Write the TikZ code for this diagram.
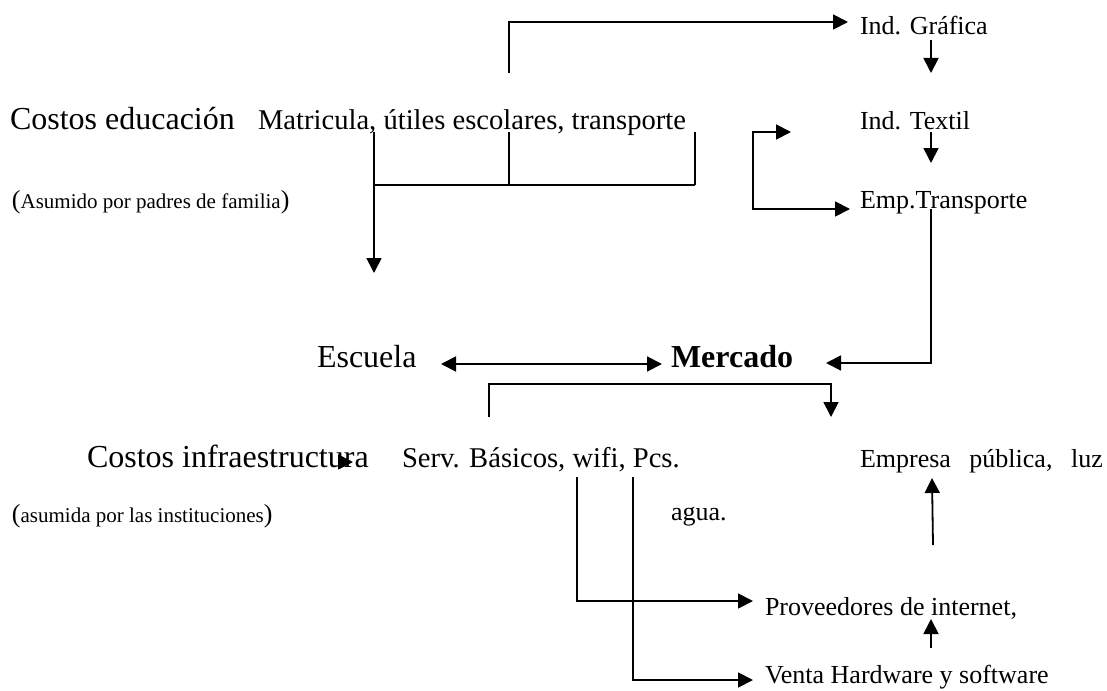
\documentclass[tikz,border=0pt]{standalone}
\usepackage{fontspec}
\setmainfont{Liberation Serif}
\usetikzlibrary{arrows.meta}
\begin{document}
\begin{tikzpicture}[x=1pt,y=-1pt,
  lbl/.style={anchor=base west,inner sep=0pt,outer sep=0pt},
  fL/.style={font=\fontsize{32}{36}\selectfont},
  fM/.style={font=\fontsize{28.6}{32}\selectfont},
  fS/.style={font=\fontsize{26}{30}\selectfont},
  conn/.style={line width=1.8pt},
  arr/.style={conn,-{Triangle[length=15pt,width=15pt]}},
  darr/.style={conn,{Triangle[length=15pt,width=15pt]}-{Triangle[length=15pt,width=15pt]}},
]
\useasboundingbox (0,0) rectangle (1107,690);
\fill[white] (0,0) rectangle (1107,690);

% texts
\node[lbl,fL] (ce) at (10,129) {Costos educación};
\node[lbl,fM] (mat) at (258,129) {Matricula, útiles escolares, transporte};
\node[lbl] (ape) at (12,208) {\fontsize{26}{30}\selectfont(\fontsize{21}{25}\selectfont Asumido por padres de familia\fontsize{26}{30}\selectfont)};
\node[lbl,fS] (ig) at (860,35) {Ind. Gráfica};
\node[lbl,fS] (it) at (860,129) {Ind. Textil};
\node[lbl,fS] (et) at (860,208) {Emp.Transporte};
\node[lbl,fL] (esc) at (317,367) {Escuela};
\node[lbl,fL] (mer) at (671,367) {\bfseries Mercado};
\node[lbl,fL] (ci) at (87,467) {Costos infraestructura};
\node[lbl,fM] (sb) at (402,467) {Serv. Básicos, wifi, Pcs.};
\node[lbl,fS] (ep) at (860,467) {Empresa\hspace{18.5pt}pública,\hspace{18.5pt}luz};
\node[lbl] (ai) at (12,522) {\fontsize{26}{30}\selectfont(\fontsize{21}{25}\selectfont asumida por las instituciones\fontsize{26}{30}\selectfont)};
\node[lbl,fS] (agua) at (671,520) {agua.};
\node[lbl,fS] (pi) at (765,615) {Proveedores de internet,};
\node[lbl,fS] (vh) at (765,683) {Venta Hardware y software};

% coordinates
\coordinate (a1) at (509,73);
\coordinate (a1t) at (848,22);
\coordinate (bl) at (374,132);
\coordinate (blt) at (374,273);
\coordinate (bm) at (509,132);
\coordinate (br) at (695,132);
\coordinate (g1) at (931,40);
\coordinate (g1t) at (931,73);
\coordinate (t1) at (931,132);
\coordinate (t1t) at (931,163);
\coordinate (lp1) at (791,132);
\coordinate (lp2) at (850,209);
\coordinate (e1) at (931,209);
\coordinate (e1t) at (826,363);
\coordinate (d1) at (441,364);
\coordinate (d2) at (662,364);
\coordinate (m1) at (489,417);
\coordinate (m1t) at (831,417);
\coordinate (s1) at (577,477);
\coordinate (s1t) at (753,601);
\coordinate (s2) at (633,477);
\coordinate (s2t) at (753,680);
\coordinate (u1) at (933,545);
\coordinate (u1t) at (932,478);
\coordinate (u2) at (931,648);
\coordinate (u2t) at (931,619);
\coordinate (c1) at (340,462);
\coordinate (c1t) at (353,462);

% connectors
\draw[arr] (a1) |- (a1t);
\draw[arr] (bl) -- (blt);
\draw[conn] (bl |- 0,185) -- (br |- 0,185);
\draw[conn] (bm) -- (bm |- 0,185);
\draw[conn] (br) -- (br |- 0,185);
\draw[arr] (g1) -- (g1t);
\draw[arr] (t1) -- (t1t);
\draw[darr] (lp1) -- (753,132) -- (753,209) -- (lp2);
\draw[arr] (e1) |- (e1t);
\draw[darr] (d1) -- (d2);
\draw[arr] (m1) -- (489,384) -- (831,384) -- (m1t);
\draw[arr] (s1) |- (s1t);
\draw[arr] (s2) |- (s2t);
\draw[arr] (u1) -- (u1t);
\draw[arr] (u2) -- (u2t);
\draw[arr] (c1) -- (c1t);
\end{tikzpicture}
\end{document}
